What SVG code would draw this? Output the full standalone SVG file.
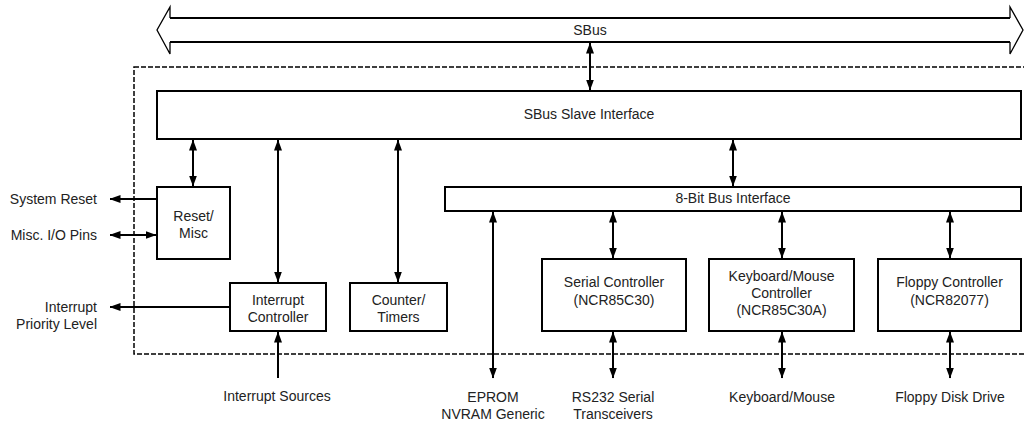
<svg xmlns="http://www.w3.org/2000/svg" width="1024" height="423" viewBox="0 0 1024 423">
<style>
.box{fill:#fff;stroke:#000;stroke-width:2}
.t{font-family:"Liberation Sans",Arial,sans-serif;font-size:14px;fill:#222;text-anchor:middle}
.e{text-anchor:end}
.c{stroke:#000;stroke-width:2;fill:none}
.a2{marker-start:url(#ah);marker-end:url(#ah)}
.a1{marker-end:url(#ah)}
</style>
<defs>
<marker id="ah" markerUnits="userSpaceOnUse" markerWidth="11" markerHeight="8" viewBox="0 0 11 8" refX="10.5" refY="4" orient="auto-start-reverse">
<path d="M0,0 L11,4 L0,8 z" fill="#000"/>
</marker>
</defs>
<rect width="1024" height="423" fill="#fff"/>
<g id="sbus">
<path d="M170,18 H1010 M170,42 H1010" stroke="#000" stroke-width="2" fill="none"/>
<path d="M170,18 V7 L157,30 L170,54 V42 M1010,18 V7 L1023,30 L1010,54 V42" stroke="#000" stroke-width="1.3" fill="none"/>
<text class="t" x="590" y="35">SBus</text>
</g>
<rect id="boundary" x="134" y="67" width="900" height="287" fill="none" stroke="#000" stroke-width="1.5" stroke-dasharray="5 2"/>
<g id="slave"><rect class="box" x="157" y="91" width="864" height="48"/><text class="t" x="589" y="119">SBus Slave Interface</text></g>
<g id="bus8"><rect class="box" x="445" y="187" width="576" height="24"/><text class="t" x="733" y="203">8-Bit Bus Interface</text></g>
<g id="reset"><rect class="box" x="157" y="187" width="73" height="72"/><text class="t" x="193.5" y="221">Reset/</text><text class="t" x="193.5" y="238">Misc</text></g>
<g id="intc"><rect class="box" x="230" y="283" width="96" height="48"/><text class="t" x="278" y="305">Interrupt</text><text class="t" x="278" y="322">Controller</text></g>
<g id="counter"><rect class="box" x="350" y="283" width="97" height="48"/><text class="t" x="398.5" y="305">Counter/</text><text class="t" x="398.5" y="322">Timers</text></g>
<g id="serial"><rect class="box" x="542" y="259" width="144" height="72"/><text class="t" x="614" y="287">Serial Controller</text><text class="t" x="614" y="305">(NCR85C30)</text></g>
<g id="kbd"><rect class="box" x="709" y="259" width="145" height="72"/><text class="t" x="781.5" y="281">Keyboard/Mouse</text><text class="t" x="781.5" y="298">Controller</text><text class="t" x="781.5" y="315">(NCR85C30A)</text></g>
<g id="floppy"><rect class="box" x="878" y="259" width="143" height="72"/><text class="t" x="949.5" y="287">Floppy Controller</text><text class="t" x="949.5" y="305">(NCR82077)</text></g>
<g id="connectors">
<line class="c a2" x1="590" y1="43" x2="590" y2="90"/>
<line class="c a2" x1="193" y1="140" x2="193" y2="186"/>
<line class="c a2" x1="278" y1="140" x2="278" y2="282"/>
<line class="c a2" x1="398" y1="140" x2="398" y2="282"/>
<line class="c a2" x1="733" y1="140" x2="733" y2="186"/>
<line class="c a2" x1="493" y1="212" x2="493" y2="378"/>
<line class="c a2" x1="613" y1="212" x2="613" y2="258"/>
<line class="c a2" x1="613" y1="332" x2="613" y2="378"/>
<line class="c a2" x1="782" y1="212" x2="782" y2="258"/>
<line class="c a2" x1="782" y1="332" x2="782" y2="378"/>
<line class="c a2" x1="950" y1="212" x2="950" y2="258"/>
<line class="c a2" x1="950" y1="332" x2="950" y2="378"/>
<line class="c a1" x1="278" y1="378" x2="278" y2="332"/>
<line class="c a1" x1="157" y1="199" x2="110" y2="199"/>
<line class="c a2" x1="110" y1="235" x2="156" y2="235"/>
<line class="c a1" x1="230" y1="307" x2="110" y2="307"/>
</g>
<g id="labels">
<text class="t e" x="97" y="204">System Reset</text>
<text class="t e" x="97" y="240">Misc. I/O Pins</text>
<text class="t e" x="97" y="312">Interrupt</text>
<text class="t e" x="97" y="329">Priority Level</text>
<text class="t" x="277" y="401">Interrupt Sources</text>
<text class="t" x="493" y="402">EPROM</text>
<text class="t" x="493" y="419">NVRAM Generic</text>
<text class="t" x="613" y="402">RS232 Serial</text>
<text class="t" x="613" y="419">Transceivers</text>
<text class="t" x="782" y="402">Keyboard/Mouse</text>
<text class="t" x="950" y="402">Floppy Disk Drive</text>
</g>
</svg>
